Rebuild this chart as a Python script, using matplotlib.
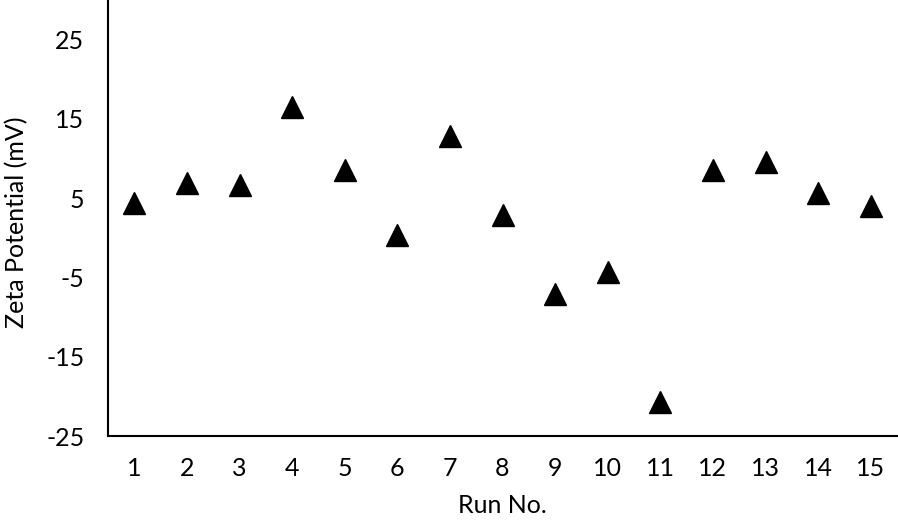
import matplotlib
matplotlib.use("Agg")
import matplotlib.pyplot as plt

# zeta potential per run
runs = list(range(1, 16))
zeta = [4.4, 6.9, 6.6, 16.5, 8.5, 0.3, 12.8, 2.9, -7.1, -4.3, -20.7, 8.6, 9.6, 5.7, 4.0]
yticks = [-25, -15, -5, 5, 15, 25]

plt.rcParams['font.family'] = ['Lato', 'DejaVu Sans']
plt.rcParams['axes.unicode_minus'] = False

fig = plt.figure(figsize=(8.98, 5.24), dpi=100)
ax = fig.add_axes([108 / 898, 88 / 524, 789 / 898, 436 / 524])

ax.plot(runs, zeta, linestyle='none', marker='^', markersize=16,
        color='black')

ax.set_xlim(0.5, 15.5)
ax.set_ylim(-25, 30)
ax.set_xticks(runs)
ax.set_yticks(yticks)

for side in ['top', 'right']:
    ax.spines[side].set_visible(False)
for side in ['left', 'bottom']:
    ax.spines[side].set_linewidth(1.5)
    ax.spines[side].set_color('#000000')

ax.tick_params(axis='both', length=0, labelsize=18, colors='#000000')
ax.tick_params(axis='y', pad=17)
ax.tick_params(axis='x', pad=15)

ax.set_xlabel('Run No.', fontsize=18, labelpad=10)
ax.set_ylabel('Zeta Potential (mV)', fontsize=18, va='center')
ax.yaxis.set_label_coords(-0.116, 0.49)

fig.savefig('out.png', dpi=100)
